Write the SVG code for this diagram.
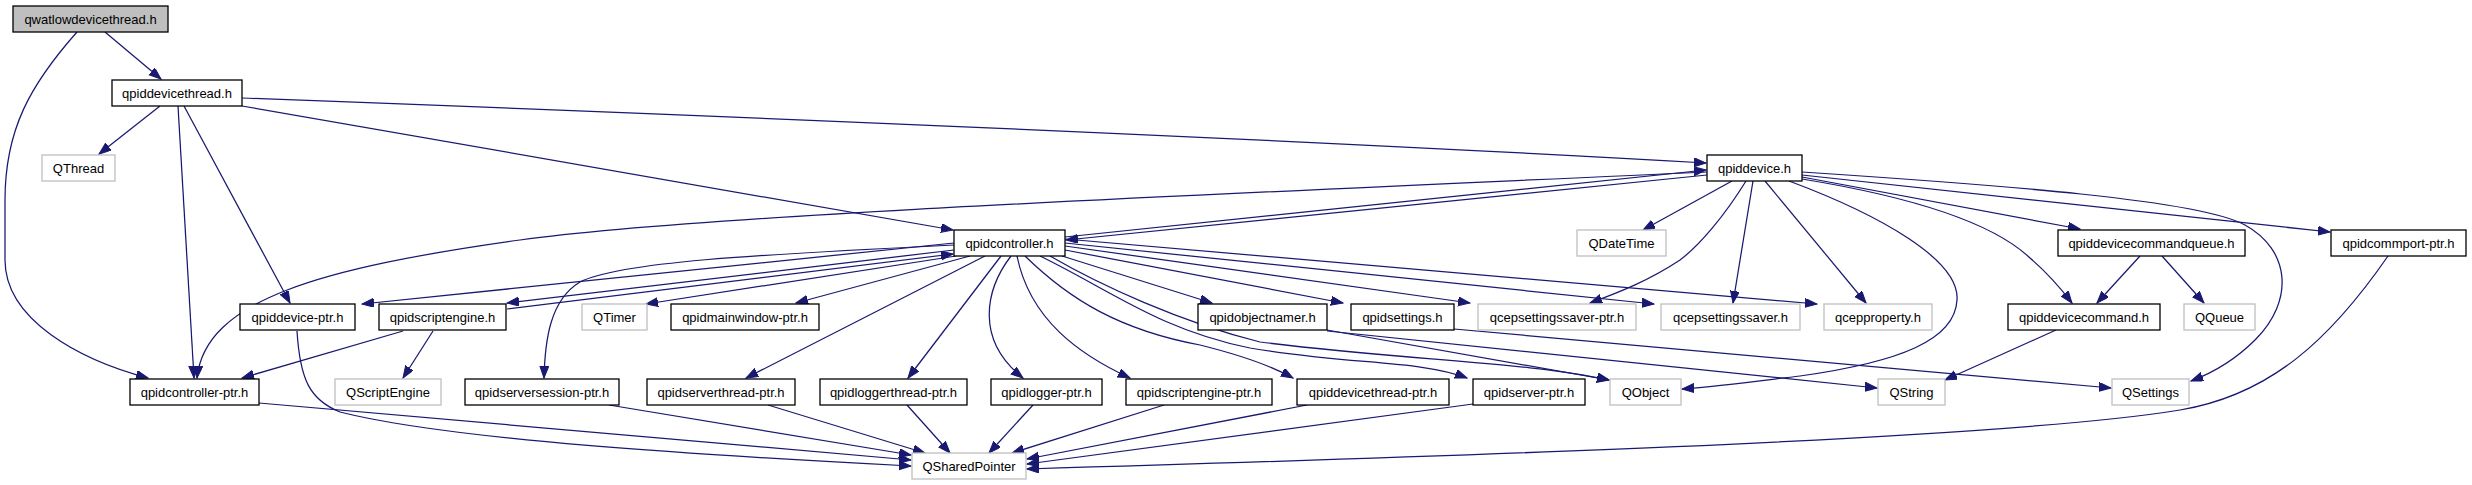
<svg xmlns="http://www.w3.org/2000/svg" width="2472" height="485" viewBox="0 0 2472 485">
<defs>
<style>
.n rect{fill:#ffffff;stroke:#000000;stroke-width:1.3}
.g rect{fill:#ffffff;stroke:#bfbfbf;stroke-width:1.3}
.r rect{fill:#bfbfbf;stroke:#000000;stroke-width:1.3}
text{font-family:"Liberation Sans",Arial,Helvetica,sans-serif;font-size:13px;fill:#000000;text-anchor:middle}
#edges path{fill:none;stroke:#191970;stroke-width:1.25;marker-end:url(#ah)}
</style>
<marker id="ah" markerWidth="13" markerHeight="10" refX="12" refY="4.5" orient="auto" markerUnits="userSpaceOnUse">
<path d="M0,0 L12,4.5 L0,9 z" fill="#191970" stroke="#191970" stroke-width="1"/>
</marker>
</defs>
<rect x="0" y="0" width="2472" height="485" fill="#ffffff"/>
<g id="edges">
<path d="M105,32 L161,79"/>
<path d="M77,32 C30,85 5,130 5,200 L5,260 C5,320 80,360 148,378"/>
<path d="M160,106 L99,154"/>
<path d="M178,106 L194,378"/>
<path d="M184,106 L290,303"/>
<path d="M242,98 C700,115 1300,140 1706,163"/>
<path d="M242,106 L953,230"/>
<path d="M1065,237 L1706,170"/>
<path d="M1707,175 L1066,240"/>
<path d="M1707,172 C1200,195 700,215 520,240 C320,268 205,300 197,378"/>
<path d="M1732,181 L1643,230"/>
<path d="M1746,181 C1725,215 1700,245 1680,260 C1650,280 1620,292 1590,303"/>
<path d="M1753,181 L1733,303"/>
<path d="M1765,181 L1866,303"/>
<path d="M1789,181 C1880,215 1960,260 1957,300 C1955,340 1900,362 1800,376 C1750,382 1720,386 1682,389"/>
<path d="M1802,177 L2080,229"/>
<path d="M1802,179 C1900,195 1990,220 2030,258 C2050,275 2062,290 2072,303"/>
<path d="M1802,175 L2330,232"/>
<path d="M1802,172 C2000,185 2200,200 2245,225 C2290,250 2295,300 2255,340 C2235,360 2215,372 2191,381"/>
<path d="M2140,256 L2097,303"/>
<path d="M2162,256 L2204,303"/>
<path d="M2388,256 C2330,340 2270,395 2180,410 C2000,440 1400,458 1027,469"/>
<path d="M2056,330 L1945,380"/>
<path d="M1327,330 L1609,380"/>
<path d="M1327,331 L1877,388"/>
<path d="M1454,329 L2111,388"/>
<path d="M954,250 L507,303"/>
<path d="M507,309 L953,254"/>
<path d="M403,331 L242,378"/>
<path d="M433,331 L403,378"/>
<path d="M954,243 L362,304"/>
<path d="M954,245 C750,255 620,262 580,282 C550,300 545,340 544,378"/>
<path d="M956,256 L646,304"/>
<path d="M970,256 L796,303"/>
<path d="M985,256 L746,378"/>
<path d="M1001,256 L908,378"/>
<path d="M1011,256 C985,290 975,340 1023,378"/>
<path d="M1017,256 C1030,320 1080,355 1130,378"/>
<path d="M1025,256 C1070,300 1120,330 1200,345 C1240,355 1270,365 1293,378"/>
<path d="M1040,256 C1110,290 1160,330 1250,348 C1350,365 1420,360 1467,378"/>
<path d="M1050,256 C1100,285 1180,322 1260,342 C1400,360 1530,362 1609,380"/>
<path d="M1062,256 L1212,303"/>
<path d="M1065,250 L1343,303"/>
<path d="M1065,246 L1470,303"/>
<path d="M1065,243 L1654,304"/>
<path d="M1065,239 L1817,304"/>
<path d="M259,403 L911,460"/>
<path d="M297,331 C300,380 310,400 340,412 C450,440 700,455 911,466"/>
<path d="M609,405 L911,455"/>
<path d="M768,405 L925,453"/>
<path d="M907,405 L950,453"/>
<path d="M1033,405 L989,453"/>
<path d="M1164,405 L1012,453"/>
<path d="M1307,405 L1027,459"/>
<path d="M1473,404 L1027,464"/>
</g>
<g id="n0" class="r"><rect x="13" y="6" width="155" height="26"/><text x="90.5" y="23.5">qwatlowdevicethread.h</text></g>
<g id="n1" class="n"><rect x="112" y="80" width="130" height="26"/><text x="177" y="97.5">qpiddevicethread.h</text></g>
<g id="n2" class="g"><rect x="42" y="155" width="73" height="26"/><text x="78.5" y="172.5">QThread</text></g>
<g id="n3" class="n"><rect x="1707" y="155" width="95" height="26"/><text x="1754.5" y="172.5">qpiddevice.h</text></g>
<g id="n4" class="n"><rect x="954" y="230" width="111" height="26"/><text x="1009.5" y="247.5">qpidcontroller.h</text></g>
<g id="n5" class="g"><rect x="1577" y="230" width="89" height="26"/><text x="1621.5" y="247.5">QDateTime</text></g>
<g id="n6" class="n"><rect x="2058" y="230" width="187" height="26"/><text x="2151.5" y="247.5">qpiddevicecommandqueue.h</text></g>
<g id="n7" class="n"><rect x="2331" y="230" width="135" height="26"/><text x="2398.5" y="247.5">qpidcommport-ptr.h</text></g>
<g id="n8" class="n"><rect x="240" y="304" width="115" height="26"/><text x="297.5" y="321.5">qpiddevice-ptr.h</text></g>
<g id="n9" class="n"><rect x="379" y="304" width="127" height="26"/><text x="442.5" y="321.5">qpidscriptengine.h</text></g>
<g id="n10" class="g"><rect x="582" y="304" width="65" height="26"/><text x="614.5" y="321.5">QTimer</text></g>
<g id="n11" class="n"><rect x="671" y="304" width="148" height="26"/><text x="745" y="321.5">qpidmainwindow-ptr.h</text></g>
<g id="n12" class="n"><rect x="1198" y="304" width="129" height="26"/><text x="1262.5" y="321.5">qpidobjectnamer.h</text></g>
<g id="n13" class="n"><rect x="1351" y="304" width="103" height="26"/><text x="1402.5" y="321.5">qpidsettings.h</text></g>
<g id="n14" class="g"><rect x="1478" y="304" width="158" height="26"/><text x="1557" y="321.5">qcepsettingssaver-ptr.h</text></g>
<g id="n15" class="g"><rect x="1661" y="304" width="139" height="26"/><text x="1730.5" y="321.5">qcepsettingssaver.h</text></g>
<g id="n16" class="g"><rect x="1824" y="304" width="108" height="26"/><text x="1878" y="321.5">qcepproperty.h</text></g>
<g id="n17" class="n"><rect x="2008" y="304" width="152" height="26"/><text x="2084" y="321.5">qpiddevicecommand.h</text></g>
<g id="n18" class="g"><rect x="2184" y="304" width="71" height="26"/><text x="2219.5" y="321.5">QQueue</text></g>
<g id="n19" class="n"><rect x="130" y="379" width="129" height="26"/><text x="194.5" y="396.5">qpidcontroller-ptr.h</text></g>
<g id="n20" class="g"><rect x="335" y="379" width="106" height="26"/><text x="388" y="396.5">QScriptEngine</text></g>
<g id="n21" class="n"><rect x="465" y="379" width="154" height="26"/><text x="542" y="396.5">qpidserversession-ptr.h</text></g>
<g id="n22" class="n"><rect x="647" y="379" width="148" height="26"/><text x="721" y="396.5">qpidserverthread-ptr.h</text></g>
<g id="n23" class="n"><rect x="820" y="379" width="147" height="26"/><text x="893.5" y="396.5">qpidloggerthread-ptr.h</text></g>
<g id="n24" class="n"><rect x="991" y="379" width="111" height="26"/><text x="1046.5" y="396.5">qpidlogger-ptr.h</text></g>
<g id="n25" class="n"><rect x="1126" y="379" width="146" height="26"/><text x="1199" y="396.5">qpidscriptengine-ptr.h</text></g>
<g id="n26" class="n"><rect x="1297" y="379" width="152" height="26"/><text x="1373" y="396.5">qpiddevicethread-ptr.h</text></g>
<g id="n27" class="n"><rect x="1473" y="379" width="112" height="26"/><text x="1529" y="396.5">qpidserver-ptr.h</text></g>
<g id="n28" class="g"><rect x="1610" y="379" width="71" height="26"/><text x="1645.5" y="396.5">QObject</text></g>
<g id="n29" class="g"><rect x="1878" y="379" width="67" height="26"/><text x="1911.5" y="396.5">QString</text></g>
<g id="n30" class="g"><rect x="2112" y="379" width="77" height="26"/><text x="2150.5" y="396.5">QSettings</text></g>
<g id="n31" class="g"><rect x="912" y="453" width="114" height="26"/><text x="969" y="470.5">QSharedPointer</text></g>
</svg>
